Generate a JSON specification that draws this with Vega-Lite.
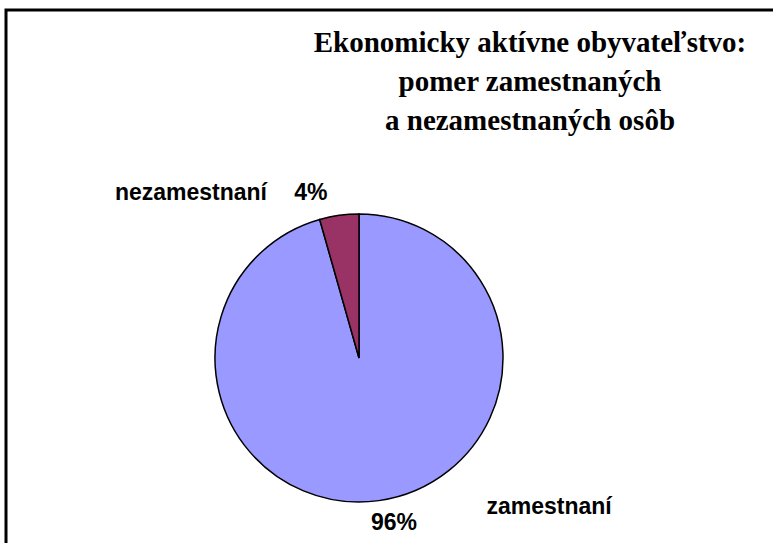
{
  "$schema": "https://vega.github.io/schema/vega-lite/v6.json",
  "width": 770,
  "height": 536,
  "autosize": "none",
  "padding": {"left": 6, "top": 10, "right": -3, "bottom": -3},
  "background": "white",
  "view": {"stroke": "black", "strokeWidth": 3, "fill": "white"},
  "config": {"view": {"stroke": "black", "strokeWidth": 3}},
  "title": {
    "text": ["Ekonomicky aktívne obyvateľstvo:", "pomer zamestnaných", "a nezamestnaných osôb"],
    "font": "Liberation Serif",
    "fontSize": 29,
    "fontWeight": "bold",
    "color": "black",
    "anchor": "middle",
    "frame": "group",
    "align": "center",
    "baseline": "alphabetic",
    "lineHeight": 39,
    "offset": -42,
    "dx": 139,
    "dy": 107
  },
  "data": {
    "values": [
      {"kategoria": "zamestnaní", "podiel": 95.6, "percento": "96%"},
      {"kategoria": "nezamestnaní", "podiel": 4.4, "percento": "4%"}
    ]
  },
  "encoding": {
    "theta": {"field": "podiel", "type": "quantitative", "stack": true},
    "order": {"field": "podiel", "type": "quantitative", "sort": "descending"}
  },
  "layer": [
    {
      "mark": {"type": "arc", "x": 353, "y": 348, "outerRadius": 144, "stroke": "black", "strokeWidth": 1.5},
      "encoding": {
        "color": {
          "field": "kategoria",
          "type": "nominal",
          "scale": {"domain": ["zamestnaní", "nezamestnaní"], "range": ["#9999FF", "#993366"]},
          "legend": null
        }
      }
    },
    {
      "mark": {
        "type": "text", "x": 353, "y": 348, "radius": 160,
        "font": "Liberation Sans", "fontSize": 23, "fontWeight": "bold", "color": "black",
        "align": "center", "baseline": "alphabetic",
        "dx": {"expr": "datum.kategoria == 'zamestnaní' ? 168 : -146"},
        "dy": {"expr": "datum.kategoria == 'zamestnaní' ? -2.5 : 0.5"}
      },
      "encoding": {
        "text": {"field": "kategoria", "type": "nominal"},
        "detail": {"field": "kategoria", "type": "nominal"}
      }
    },
    {
      "mark": {
        "type": "text", "x": 353, "y": 348, "radius": 160,
        "font": "Liberation Sans", "fontSize": 23, "fontWeight": "bold", "color": "black",
        "align": "center", "baseline": "alphabetic",
        "dx": {"expr": "datum.kategoria == 'zamestnaní' ? 13 : -26"},
        "dy": {"expr": "datum.kategoria == 'zamestnaní' ? 13.5 : 0.5"}
      },
      "encoding": {
        "text": {"field": "percento", "type": "nominal"},
        "detail": {"field": "kategoria", "type": "nominal"}
      }
    }
  ]
}
